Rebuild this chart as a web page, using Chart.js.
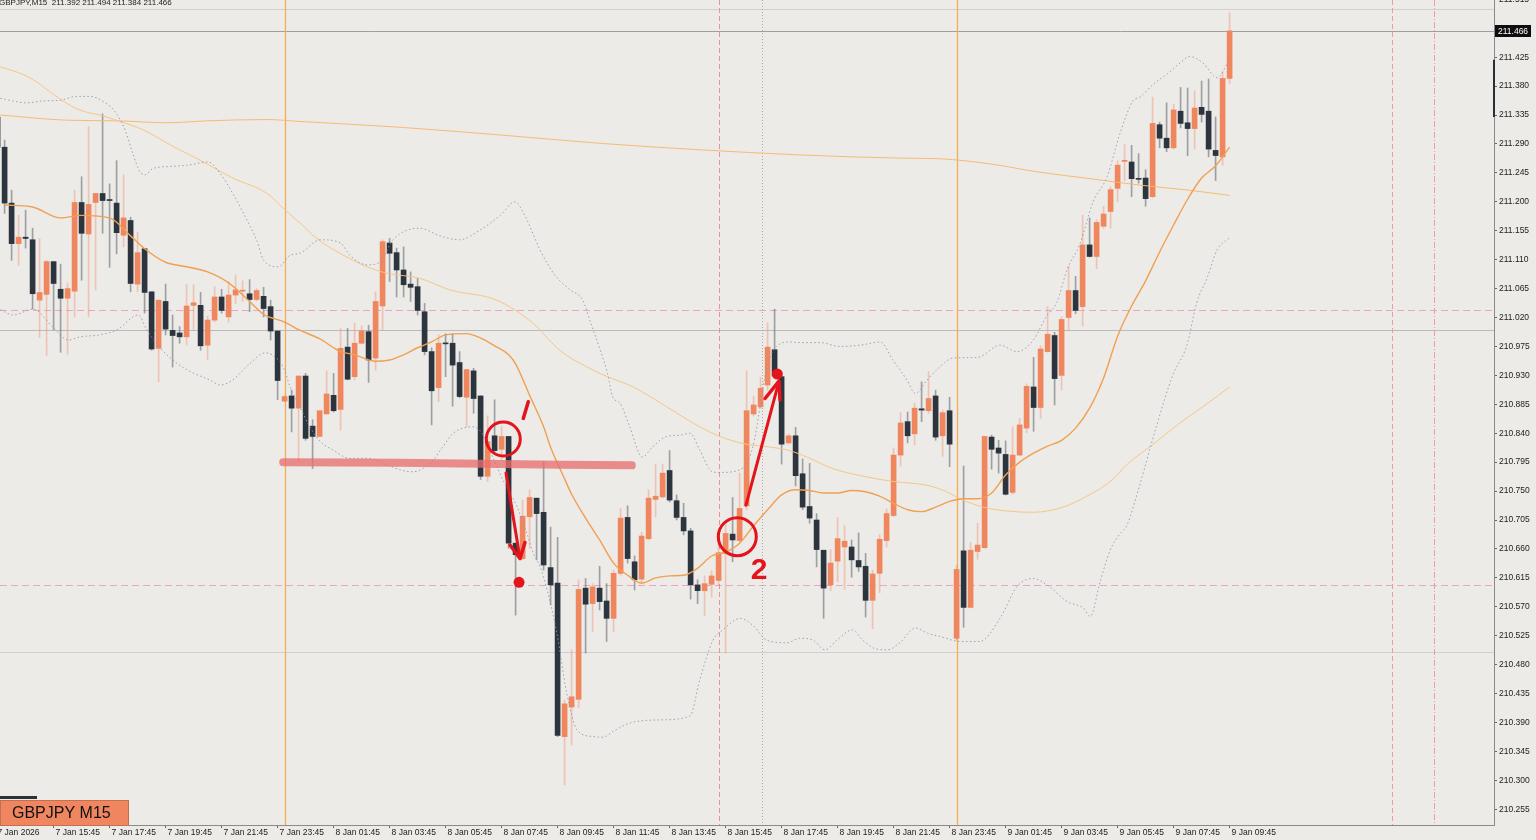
<!DOCTYPE html>
<html>
<head>
<meta charset="utf-8">
<script src="https://cdn.jsdelivr.net/npm/chart.js@4.4.0/dist/chart.umd.min.js"></script>
<style>
  html, body { margin: 0; padding: 0; background: #ECEBE7; }
  #wrap { position: relative; width: 1536px; height: 840px; }
</style>
</head>
<body>
<div id="wrap"><canvas id="c"></canvas></div>
<script>
// GBPJPY M15, 7 Jan 13:45 .. 9 Jan 09:45 (bar index -1 .. 175)
const firstBar = -1;

const opens = [
  211.332, 211.285, 211.198, 211.135, 211.145, 211.141, 211.047, 211.056, 211.107, 211.064,
  211.050, 211.061, 211.199, 211.150, 211.199, 211.213, 211.203, 211.198, 211.148, 211.171,
  211.072, 211.127, 211.060, 210.972, 211.045, 211.000, 210.996, 210.990, 211.039, 211.039,
  210.977, 211.016, 211.052, 211.021, 211.055, 211.061, 211.057, 211.048, 211.053, 211.037,
  210.999, 210.890, 210.898, 210.879, 210.929, 210.851, 210.835, 210.870, 210.899, 210.877,
  210.974, 210.928, 210.980, 210.998, 210.957, 211.038, 211.136, 211.121, 211.094, 211.072,
  211.068, 211.029, 210.967, 210.911, 210.980, 210.980, 210.950, 210.896, 210.937, 210.898,
  210.773, 210.836, 210.815, 210.835, 210.669, 210.645, 210.710, 210.739, 210.717, 210.631,
  210.607, 210.368, 210.414, 210.426, 210.599, 210.575, 210.599, 210.579, 210.552, 210.622,
  210.709, 210.640, 210.613, 210.676, 210.737, 210.741, 210.782, 210.735, 210.709, 210.688,
  210.604, 210.595, 210.605, 210.611, 210.653, 210.683, 210.673, 210.727, 210.870, 210.881,
  210.915, 210.970, 210.928, 210.825, 210.836, 210.777, 210.726, 210.705, 210.658, 210.604,
  210.641, 210.663, 210.663, 210.642, 210.633, 210.580, 210.622, 210.673, 210.712, 210.806,
  210.858, 210.839, 210.878, 210.875, 210.898, 210.836, 210.875, 210.521, 210.657, 210.569,
  210.656, 210.662, 210.834, 210.817, 210.807, 210.748, 210.806, 210.848, 210.912, 210.880,
  210.967, 210.992, 210.930, 211.020, 211.062, 211.037, 211.133, 211.115, 211.162, 211.185,
  211.221, 211.263, 211.262, 211.236, 211.237, 211.208, 211.320, 211.299, 211.284, 211.341,
  211.323, 211.314, 211.347, 211.341, 211.280, 211.270, 211.392
];
const highs = [
  211.338, 211.296, 211.218, 211.179, 211.187, 211.159, 211.143, 211.109, 211.107, 211.103,
  211.074, 211.218, 211.239, 211.317, 211.213, 211.337, 211.228, 211.264, 211.242, 211.176,
  211.153, 211.127, 211.060, 211.047, 211.072, 211.024, 211.006, 211.072, 211.071, 211.059,
  211.022, 211.068, 211.064, 211.076, 211.086, 211.077, 211.079, 211.065, 211.067, 211.047,
  210.999, 210.899, 210.907, 210.929, 210.933, 210.861, 210.875, 210.937, 210.933, 211.003,
  211.003, 211.011, 211.007, 211.008, 211.060, 211.141, 211.143, 211.128, 211.130, 211.091,
  211.081, 211.042, 210.973, 210.993, 210.995, 210.995, 210.967, 210.939, 210.941, 210.898,
  210.867, 210.892, 210.850, 210.835, 210.669, 210.736, 210.752, 210.739, 210.796, 210.694,
  210.678, 210.425, 210.503, 210.612, 210.614, 210.606, 210.633, 210.606, 210.627, 210.723,
  210.727, 210.649, 210.686, 210.752, 210.792, 210.792, 210.813, 210.744, 210.731, 210.692,
  210.612, 210.618, 210.626, 210.678, 210.705, 210.740, 210.778, 210.937, 210.898, 210.927,
  211.012, 211.033, 210.928, 210.839, 210.849, 210.800, 210.793, 210.715, 210.658, 210.659,
  210.709, 210.696, 210.674, 210.685, 210.653, 210.627, 210.682, 210.722, 210.817, 210.872,
  210.873, 210.887, 210.920, 210.936, 210.907, 210.876, 210.896, 210.635, 210.789, 210.670,
  210.700, 210.835, 210.837, 210.829, 210.828, 210.850, 210.863, 210.917, 210.958, 210.976,
  211.037, 210.997, 211.021, 211.100, 211.084, 211.179, 211.175, 211.172, 211.193, 211.223,
  211.264, 211.289, 211.288, 211.275, 211.250, 211.363, 211.324, 211.354, 211.352, 211.378,
  211.377, 211.373, 211.388, 211.391, 211.332, 211.403, 211.494
];
const lows = [
  211.281, 211.182, 211.109, 211.101, 211.128, 211.033, 210.989, 210.961, 211.001, 210.966,
  210.963, 211.021, 211.078, 211.021, 211.063, 211.151, 211.098, 211.119, 211.130, 211.060,
  211.060, 211.027, 210.969, 210.920, 210.993, 210.943, 210.980, 210.977, 211.001, 210.969,
  210.954, 211.013, 211.027, 211.013, 211.042, 211.045, 211.029, 211.046, 211.021, 210.985,
  210.892, 210.889, 210.842, 210.796, 210.829, 210.785, 210.835, 210.870, 210.873, 210.845,
  210.923, 210.923, 210.979, 210.919, 210.938, 211.001, 211.076, 211.052, 211.052, 211.045,
  211.024, 210.962, 210.853, 210.889, 210.928, 210.882, 210.895, 210.850, 210.871, 210.768,
  210.765, 210.811, 210.798, 210.661, 210.557, 210.643, 210.661, 210.643, 210.627, 210.573,
  210.368, 210.293, 210.355, 210.413, 210.498, 210.531, 210.565, 210.516, 210.531, 210.619,
  210.638, 210.596, 210.607, 210.674, 210.710, 210.739, 210.733, 210.705, 210.682, 210.582,
  210.575, 210.556, 210.585, 210.604, 210.498, 210.640, 210.671, 210.721, 210.867, 210.879,
  210.907, 210.926, 210.792, 210.823, 210.758, 210.721, 210.700, 210.632, 210.552, 210.595,
  210.609, 210.597, 210.616, 210.625, 210.554, 210.536, 210.592, 210.663, 210.710, 210.789,
  210.825, 210.822, 210.858, 210.871, 210.829, 210.804, 210.788, 210.518, 210.538, 210.568,
  210.644, 210.661, 210.784, 210.778, 210.744, 210.745, 210.805, 210.841, 210.843, 210.863,
  210.966, 210.884, 210.907, 211.000, 211.026, 211.007, 211.114, 211.096, 211.159, 211.159,
  211.200, 211.233, 211.208, 211.229, 211.193, 211.206, 211.284, 211.278, 211.282, 211.315,
  211.272, 211.282, 211.324, 211.270, 211.233, 211.257, 211.384
];
const closes = [
  211.285, 211.198, 211.135, 211.145, 211.143, 211.057, 211.059, 211.107, 211.073, 211.050,
  211.065, 211.199, 211.151, 211.196, 211.213, 211.202, 211.202, 211.152, 211.175, 211.073,
  211.121, 211.059, 210.971, 211.047, 211.002, 210.992, 210.990, 211.038, 211.043, 210.976,
  211.016, 211.052, 211.031, 211.055, 211.063, 211.062, 211.048, 211.062, 211.034, 210.999,
  210.922, 210.897, 210.879, 210.929, 210.832, 210.835, 210.875, 210.901, 210.875, 210.972,
  210.924, 210.980, 210.999, 210.954, 211.045, 211.138, 211.120, 211.094, 211.071, 211.067,
  211.031, 210.967, 210.906, 210.980, 210.979, 210.946, 210.897, 210.939, 210.894, 210.773,
  210.827, 210.813, 210.835, 210.669, 210.651, 210.711, 210.740, 210.715, 210.635, 210.604,
  210.370, 210.419, 210.430, 210.597, 210.574, 210.601, 210.578, 210.552, 210.622, 210.708,
  210.645, 210.612, 210.680, 210.739, 210.742, 210.778, 210.736, 210.709, 210.688, 210.604,
  210.595, 210.606, 210.618, 210.654, 210.684, 210.674, 210.723, 210.875, 210.884, 210.910,
  210.974, 210.929, 210.823, 210.836, 210.774, 210.725, 210.708, 210.659, 210.599, 210.638,
  210.676, 210.672, 210.643, 210.632, 210.580, 210.621, 210.675, 210.715, 210.806, 210.856,
  210.836, 210.879, 210.876, 210.894, 210.834, 210.872, 210.823, 210.628, 210.569, 210.658,
  210.666, 210.835, 210.815, 210.809, 210.745, 210.806, 210.853, 210.913, 210.880, 210.971,
  210.994, 210.925, 211.017, 211.062, 211.031, 211.133, 211.115, 211.168, 211.181, 211.219,
  211.257, 211.263, 211.236, 211.235, 211.205, 211.322, 211.299, 211.284, 211.343, 211.322,
  211.314, 211.346, 211.336, 211.282, 211.272, 211.392, 211.466
];

// indicator lines: [bar, price]
const ma20 = [
  [0,211.195],[4,211.192],[8,211.175],[11,211.179],[15,211.175],[18,211.147],[20,211.127],
  [23,211.106],[26,211.099],[29,211.091],[32,211.074],[35,211.045],[37,211.025],[40,211.013],
  [42,211.001],[45,210.987],[47,210.973],[48,210.967],[50,210.962],[53,210.952],[55,210.954],
  [57,210.962],[59,210.973],[61,210.982],[63,210.993],[66,210.995],[68,210.988],[70,210.976],
  [72,210.962],[73,210.948],[75,210.899],[77,210.850],[78,210.818],[80,210.769],[81,210.745],
  [83,210.708],[85,210.674],[87,210.638],[89,210.619],[91,210.607],[93,210.615],[95,210.618],
  [97,210.619],[99,210.630],[101,210.649],[103,210.655],[105,210.669],[107,210.696],[109,210.721],
  [111,210.744],[113,210.752],[115,210.751],[117,210.747],[119,210.747],[121,210.751],[123,210.749],
  [125,210.742],[127,210.731],[129,210.721],[131,210.718],[133,210.725],[135,210.734],[137,210.738],
  [139,210.738],[141,210.747],[143,210.775],[145,210.795],[147,210.809],[149,210.820],[151,210.829],
  [153,210.848],[155,210.879],[157,210.926],[159,210.991],[161,211.038],[163,211.077],[165,211.122],
  [167,211.164],[169,211.204],[171,211.237],[173,211.256],[175,211.285]
];
const bbUpper = [
  [-0.6,211.361],[3.2,211.354],[5.5,211.357],[7.9,211.358],[10.3,211.364],[12.2,211.364],
  [14.1,211.356],[15.8,211.340],[17.2,211.312],[18.3,211.276],[19.3,211.247],[20.1,211.242],
  [21.2,211.252],[23.6,211.255],[26.1,211.257],[29.1,211.262],[30.8,211.244],[32.6,211.213],
  [34.6,211.172],[36.1,211.138],[37,211.109],[39.1,211.099],[40.8,211.117],[42.2,211.120],
  [45.1,211.141],[48,211.136],[49.3,211.117],[51.8,211.102],[53.6,211.106],[55.5,211.141],
  [59.3,211.159],[62.2,211.147],[65,211.141],[67.9,211.156],[70.8,211.179],[72.9,211.200],
  [74.3,211.179],[76.5,211.125],[78.6,211.086],[80.8,211.063],[82.6,211.047],[83.6,211.016],
  [85.1,210.969],[86.1,210.934],[86.9,210.896],[87.9,210.887],[89.3,210.850],[91.1,210.803],
  [92.6,210.819],[94.6,210.835],[96.5,210.837],[97.9,210.840],[99.3,210.814],[101.1,210.780],
  [102.2,210.779],[105,210.783],[106.9,210.819],[108.9,210.943],[110.3,210.975],[112.2,210.982],
  [113.6,210.981],[116.5,210.981],[119.3,210.975],[122.2,210.977],[125.1,210.982],[126.9,210.954],
  [128.9,210.923],[130.1,210.902],[131.8,210.923],[133.6,210.943],[135.5,210.957],[139,210.958],
  [142.2,210.977],[144.6,210.967],[146.9,210.984],[148.9,211.023],[150.3,211.043],[151.8,211.095],
  [153.6,211.134],[155.5,211.200],[157.5,211.239],[159.3,211.305],[161.2,211.357],[162.2,211.363],
  [164.1,211.383],[166.1,211.399],[167.9,211.416],[169.3,211.426],[171.2,211.416],[173.2,211.393],
  [175,211.422]
];
const bbLower = [
  [-0.6,211.032],[1.2,211.024],[4.1,211.033],[6.9,211.005],[9.1,210.985],[10.8,210.990],
  [13.6,210.993],[16.1,211.001],[19.1,211.024],[20.3,211.001],[22.2,210.973],[24.6,210.949],
  [26.9,210.934],[29.3,210.923],[30.8,210.915],[32.6,210.923],[35.1,210.949],[37.2,210.965],
  [38.2,210.962],[39.8,210.943],[40.8,210.912],[42.2,210.881],[43.6,210.850],[45.1,210.827],
  [46.9,210.814],[49.3,210.801],[51.8,210.801],[54.6,210.791],[56.5,210.783],[58.3,210.780],
  [61.2,210.798],[62.6,210.819],[64.1,210.840],[66.9,210.850],[68.2,210.840],[69.8,210.801],
  [71.2,210.767],[73.2,210.726],[74.6,210.685],[75.5,210.654],[76.5,210.632],[77.5,210.596],
  [78.9,210.529],[80.3,210.436],[81.8,210.378],[84.1,210.368],[85.5,210.367],[86.9,210.376],
  [89.3,210.389],[93.6,210.394],[97.9,210.400],[99.3,210.456],[101.2,210.518],[102.6,210.534],
  [105.1,210.552],[106.9,210.541],[108.9,210.518],[111.8,210.514],[113.6,210.521],[115.5,210.518],
  [117.2,210.503],[118.9,210.518],[121.1,210.534],[122.6,210.518],[124.1,210.506],[126.1,210.503],
  [127.9,210.514],[130.1,210.537],[131.8,210.529],[133.6,210.524],[136.5,210.516],[139.3,210.516],
  [142.2,210.552],[144.6,210.601],[146.9,210.614],[149.3,210.601],[151.8,210.578],[154.1,210.568],
  [155.1,210.555],[156.5,210.609],[157.9,210.657],[159.3,210.683],[160.3,210.696],[162.2,210.761],
  [164.6,210.853],[166.9,210.931],[168.9,210.977],[170.3,211.043],[171.8,211.082],[173.2,211.125],
  [175,211.144]
];
const maSlow = [
  [-0.6,211.410],[2.2,211.400],[4.1,211.390],[6.5,211.371],[8.9,211.353],[11.2,211.341],
  [13.6,211.335],[16.5,211.325],[19.8,211.312],[24.1,211.286],[27.9,211.265],[32.6,211.237],
  [37.5,211.213],[39.8,211.190],[42.2,211.167],[44.6,211.143],[47.9,211.120],[51.8,211.099],
  [54.6,211.089],[59.3,211.081],[63.6,211.063],[70.3,211.047],[75.5,211.011],[79.3,210.969],
  [83.2,210.943],[86.1,210.928],[89.8,210.912],[94.6,210.881],[99.3,210.850],[102.2,210.835],
  [105.5,210.824],[108.9,210.819],[111.8,210.814],[114.6,210.803],[118.3,210.785],[123.2,210.772],
  [126.9,210.765],[131.8,210.759],[134.6,210.749],[136.5,210.738],[139.8,210.725],[143.2,210.719],
  [146.9,210.717],[151.2,210.725],[154.6,210.742],[158.3,210.768],[160.3,210.791],[164.1,210.823],
  [167.9,210.856],[171.8,210.886],[175,210.912]
];
const maLong = [
  [-0.6,211.335],[8.9,211.327],[16.1,211.326],[23.2,211.323],[28.9,211.326],[37.5,211.328],
  [42.2,211.325],[56.5,211.316],[70.8,211.304],[85.1,211.291],[99.3,211.281],[113.6,211.273],
  [127.9,211.268],[133.6,211.267],[140.8,211.259],[147.9,211.246],[155.1,211.236],[162.2,211.226],
  [169.3,211.218],[175,211.210]
];

// axis ticks
const xTickBars = [-1.3, 7, 15, 23, 31, 39, 47, 55, 63, 71, 79, 87, 95, 103, 111, 119, 127, 135, 143, 151, 159, 167, 175];
const xTickLabels = ['7 Jan 2026', '7 Jan 15:45', '7 Jan 17:45', '7 Jan 19:45', '7 Jan 21:45', '7 Jan 23:45',
  '8 Jan 01:45', '8 Jan 03:45', '8 Jan 05:45', '8 Jan 07:45', '8 Jan 09:45', '8 Jan 11:45', '8 Jan 13:45',
  '8 Jan 15:45', '8 Jan 17:45', '8 Jan 19:45', '8 Jan 21:45', '8 Jan 23:45', '9 Jan 01:45', '9 Jan 03:45',
  '9 Jan 05:45', '9 Jan 07:45', '9 Jan 09:45'];
const yTicks = [210.255, 210.300, 210.345, 210.390, 210.435, 210.480, 210.525, 210.570, 210.615, 210.660,
  210.705, 210.750, 210.795, 210.840, 210.885, 210.930, 210.975, 211.020, 211.065, 211.110, 211.155,
  211.200, 211.245, 211.290, 211.335, 211.380, 211.425, 211.470, 211.515];

// chart objects (bars / prices)
const bidPrice = 211.466;
const barRange = [211.332, 211.421];
const daySeparators = [40, 136];
const pinkLevels = [211.032, 210.604];
const greyLevels = [211.000];
const faintLevels = [211.500, 210.500];
const pinkVLines = [102.1];
const dottedVLines = [108.2];
const futureVLines = [198.2, 204.2];

// hand drawn marks
const zoneLine = [[39.8,210.795],[56.5,210.794],[70.8,210.792],[79.4,210.791],[89.6,210.790]];
const rings = [[71.24,210.831],[104.67,210.679]];
const dots = [[73.49,210.608],[110.39,210.932]];
const arrows = [
  { from: [71.63,210.778], tip: [73.63,210.645], arms: [[72.2,210.666],[74.34,210.670]] },
  { from: [105.91,210.728], tip: [110.63,210.921], arms: [[108.63,210.894],[110.77,210.892]] }
];
const tickMark = [[74.81,210.889],[74.1,210.863]];
const label2 = [107.77,210.626];

const UP = 'rgb(240,134,94)';
const DOWN = 'rgb(44,52,62)';
const UP_WICK = 'rgba(240,140,110,0.42)';
const DOWN_WICK = 'rgba(105,110,118,0.6)';
const RED = '#E3141B';
const FONT = 'Liberation Sans';

const barX = opens.map((o, k) => firstBar + k);
const isUp = opens.map((o, k) => closes[k] >= o);
const toXY = arr => arr.map(p => ({ x: p[0], y: p[1] }));

const chartPlugins = {
  id: 'mtDecor',
  beforeDraw(chart) {
    const c = chart.ctx;
    c.save();
    c.fillStyle = '#ECEBE7';
    c.fillRect(0, 0, chart.width, chart.height);
    c.restore();
  },
  beforeDatasetsDraw(chart) {
    const c = chart.ctx, a = chart.chartArea;
    const sx = chart.scales.x, sy = chart.scales.y;
    c.save();
    c.beginPath(); c.rect(a.left, a.top, a.right - a.left, a.bottom - a.top); c.clip();
    const hline = (v, color, dash, w) => {
      const y = Math.round(sy.getPixelForValue(v)) + 0.5;
      c.strokeStyle = color; c.lineWidth = w || 1; c.setLineDash(dash || []);
      c.beginPath(); c.moveTo(a.left, y); c.lineTo(a.right, y); c.stroke();
    };
    const vline = (v, color, dash, w) => {
      const x = Math.round(sx.getPixelForValue(v)) + 0.5;
      c.strokeStyle = color; c.lineWidth = w || 1; c.setLineDash(dash || []);
      c.beginPath(); c.moveTo(x, a.top); c.lineTo(x, a.bottom); c.stroke();
    };
    faintLevels.forEach(v => hline(v, 'rgba(200,200,200,0.8)'));
    greyLevels.forEach(v => hline(v, 'rgba(175,175,175,0.8)'));
    hline(bidPrice, 'rgba(150,150,150,0.9)');
    pinkLevels.forEach(v => hline(v, 'rgba(240,160,190,0.95)', [7, 4]));
    daySeparators.forEach(v => vline(v, 'rgb(245,172,84)', [], 1.3));
    pinkVLines.forEach(v => vline(v, 'rgba(230,140,150,0.9)', [5, 3]));
    dottedVLines.forEach(v => vline(v, 'rgba(150,150,150,0.8)', [1, 2]));
    futureVLines.forEach((v, k) => vline(v, 'rgba(240,150,155,0.95)', k === 0 ? [5, 3] : [6, 2, 1, 2]));
    c.restore();
  },
  afterDatasetsDraw(chart) {
    const c = chart.ctx, a = chart.chartArea;
    const sx = chart.scales.x, sy = chart.scales.y;
    const P = p => [sx.getPixelForValue(p[0]), sy.getPixelForValue(p[1])];
    c.save();
    c.beginPath(); c.rect(a.left, a.top, a.right - a.left, a.bottom - a.top); c.clip();
    // support zone stroke
    c.strokeStyle = 'rgba(232,112,112,0.78)';
    c.lineWidth = 8; c.lineCap = 'round'; c.lineJoin = 'round';
    c.beginPath();
    zoneLine.forEach((p, k) => { const q = P(p); k ? c.lineTo(q[0], q[1]) : c.moveTo(q[0], q[1]); });
    c.stroke();
    // rings
    c.strokeStyle = RED; c.lineWidth = 3;
    rings.forEach((p, k) => {
      const q = P(p);
      c.beginPath(); c.arc(q[0], q[1], k ? 19 : 17, 0, Math.PI * 2); c.stroke();
    });
    // arrows
    arrows.forEach(ar => {
      const f = P(ar.from), t = P(ar.tip);
      c.lineWidth = 3;
      c.beginPath(); c.moveTo(f[0], f[1]); c.lineTo(t[0], t[1]); c.stroke();
      c.beginPath();
      const l = P(ar.arms[0]), r = P(ar.arms[1]);
      c.moveTo(l[0], l[1]); c.lineTo(t[0], t[1]); c.lineTo(r[0], r[1]);
      c.lineWidth = 3.5; c.stroke();
    });
    // the little "1" stroke
    const m0 = P(tickMark[0]), m1 = P(tickMark[1]);
    c.lineWidth = 3.5;
    c.beginPath(); c.moveTo(m0[0], m0[1]); c.lineTo(m1[0], m1[1]); c.stroke();
    // dots
    c.fillStyle = RED;
    dots.forEach(p => { const q = P(p); c.beginPath(); c.arc(q[0], q[1], 5.5, 0, Math.PI * 2); c.fill(); });
    // "2"
    const t2 = P(label2);
    c.font = 'bold 30px ' + FONT;
    c.textAlign = 'center'; c.textBaseline = 'middle';
    c.fillText('2', t2[0], t2[1]);
    c.restore();
  },
  afterDraw(chart) {
    const c = chart.ctx, a = chart.chartArea;
    const sy = chart.scales.y;
    c.save();
    // current bar range marker on the price axis
    c.fillStyle = '#2A2F36';
    const y0 = sy.getPixelForValue(barRange[1]), y1 = sy.getPixelForValue(barRange[0]);
    c.fillRect(a.right - 1, y0, 2, y1 - y0);
    // bid price box
    const yb = sy.getPixelForValue(bidPrice);
    c.fillStyle = '#0E0E0E';
    c.fillRect(a.right + 1, Math.round(yb) - 6, 36, 12);
    c.fillStyle = '#FFFFFF';
    c.font = '8.5px ' + FONT;
    c.textAlign = 'left'; c.textBaseline = 'middle';
    c.fillText(bidPrice.toFixed(3), a.right + 4, Math.round(yb) + 0.5);
    // header
    c.fillStyle = '#222';
    c.font = '8px ' + FONT;
    c.textBaseline = 'alphabetic';
    c.fillText('GBPJPY,M15  211.392 211.494 211.384 211.466', -1, 4.5);
    // symbol badge
    c.fillStyle = '#2C323A';
    c.fillRect(0, 796, 37, 3);
    c.fillStyle = 'rgb(240,134,96)';
    c.fillRect(0, 800, 129, 26);
    c.strokeStyle = 'rgba(120,70,50,0.35)';
    c.lineWidth = 1;
    c.strokeRect(0.5, 800.5, 128, 25);
    c.fillStyle = '#111';
    c.font = '16px ' + FONT;
    c.textBaseline = 'middle';
    c.fillText('GBPJPY M15', 12, 814);
    c.restore();
  }
};

const ctx = document.getElementById('c');
new Chart(ctx, {
  type: 'bar',
  data: {
    datasets: [
      { type: 'line', data: toXY(ma20), borderColor: 'rgb(240,160,82)', borderWidth: 1.4,
        pointRadius: 0, cubicInterpolationMode: 'monotone', order: 0 },
      { type: 'line', data: toXY(bbUpper), borderColor: 'rgba(150,150,178,0.9)', borderWidth: 1,
        borderDash: [1.5, 2.5], pointRadius: 0, cubicInterpolationMode: 'monotone', order: 0 },
      { type: 'line', data: toXY(bbLower), borderColor: 'rgba(150,150,178,0.9)', borderWidth: 1,
        borderDash: [1.5, 2.5], pointRadius: 0, cubicInterpolationMode: 'monotone', order: 0 },
      { type: 'line', data: toXY(maSlow), borderColor: 'rgba(246,196,130,0.95)', borderWidth: 1,
        pointRadius: 0, cubicInterpolationMode: 'monotone', order: 0 },
      { type: 'line', data: toXY(maLong), borderColor: 'rgba(244,184,110,0.95)', borderWidth: 1,
        pointRadius: 0, cubicInterpolationMode: 'monotone', order: 0 },
      { label: 'body', data: opens.map((o, k) => ({ x: barX[k], y: [o, closes[k]] })),
        backgroundColor: isUp.map(u => u ? UP : DOWN), borderWidth: 0,
        barThickness: 5, minBarLength: 1, grouped: false, order: 1 },
      { label: 'wick', data: lows.map((l, k) => ({ x: barX[k], y: [l, highs[k]] })),
        backgroundColor: isUp.map(u => u ? UP_WICK : DOWN_WICK), borderWidth: 0,
        barThickness: 1, grouped: false, order: 2 }
    ]
  },
  options: {
    responsive: true,
    maintainAspectRatio: false,
    animation: false,
    layout: { padding: 0 },
    plugins: { legend: { display: false }, tooltip: { enabled: false }, title: { display: false } },
    scales: {
      x: {
        type: 'linear', position: 'bottom', offset: false, min: -0.657, max: 212.77,
        afterBuildTicks: s => { s.ticks = xTickBars.map(v => ({ value: v })); },
        afterFit: s => { s.height = 15; s.paddingLeft = 0; s.paddingRight = 0; },
        ticks: {
          autoSkip: false, maxRotation: 0, align: 'start', labelOffset: 2, padding: 0,
          color: '#222', font: { family: FONT, size: 8.5 },
          callback: (v, i) => xTickLabels[i]
        },
        grid: { drawOnChartArea: false, drawTicks: true, tickLength: 3, color: '#666', offset: false },
        border: { display: true, color: '#8A8A8A' }
      },
      y: {
        type: 'linear', position: 'right', min: 210.2305, max: 211.514,
        afterBuildTicks: s => { s.ticks = yTicks.map(v => ({ value: v })); },
        afterFit: s => { s.width = 42; s.paddingTop = 0; s.paddingBottom = 0; },
        ticks: {
          autoSkip: false, padding: 2, color: '#222', font: { family: FONT, size: 8.5 },
          callback: v => v.toFixed(3)
        },
        grid: { drawOnChartArea: false, drawTicks: true, tickLength: 3, color: '#666' },
        border: { display: true, color: '#8A8A8A' }
      }
    }
  },
  plugins: [chartPlugins]
});
</script>
</body>
</html>
